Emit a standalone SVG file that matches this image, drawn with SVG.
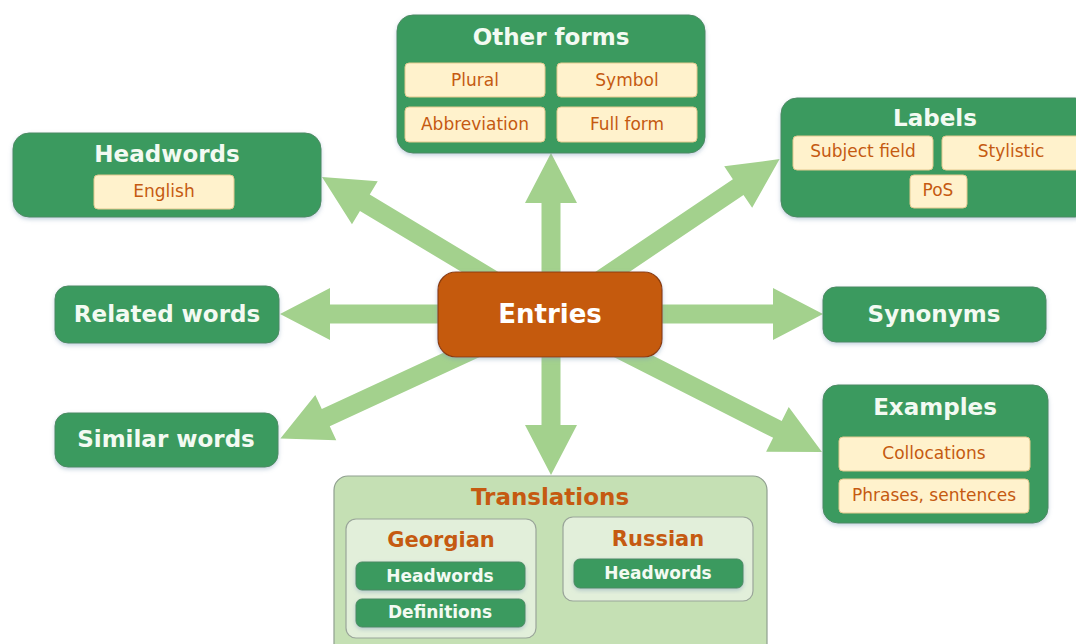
<svg xmlns="http://www.w3.org/2000/svg" width="1076" height="644" viewBox="0 0 1076 644">
<defs>
<filter id="sh" x="-10%" y="-10%" width="120%" height="130%">
<feDropShadow dx="0" dy="2" stdDeviation="2" flood-color="#7f9cb8" flood-opacity="0.45"/>
</filter>
</defs>
<style>
.bg{fill:#ffffff}
.arrow{fill:#A3D18D}
.node{fill:#3B9A5E;stroke:#4d8a62;stroke-width:1;filter:url(#sh)}
.entry{fill:#C55A11;stroke:#8B3E0A;stroke-width:1.2;filter:url(#sh)}
.pill{fill:#FFF2CC;stroke:#E3C98F;stroke-width:1}
.gpill{fill:#3B9A5E;stroke:#4d8a62;stroke-width:1;filter:url(#sh)}
.trans{fill:#C5E0B4;stroke:#8f9f8f;stroke-width:1.2}
.lang{fill:#E2EFDA;stroke:#9aa59a;stroke-width:1.2}
.t{font-family:"DejaVu Sans","Verdana",sans-serif;text-anchor:middle}
.title{font-size:23px;font-weight:bold;fill:#F3FAF2}
.ptxt{font-size:17px;fill:#C55A11}
.otitle{font-weight:bold;fill:#C55A11}
.wsub{font-size:17px;font-weight:bold;fill:#F3FAF2}
</style>
<rect class="bg" x="0" y="0" width="1076" height="644"/>
<g id="connectors">
<polygon class="arrow" transform="translate(550,314) rotate(0)" points="0,-9.5 223,-9.5 223,-26 273,0 223,26 223,9.5 0,9.5"/>
<polygon class="arrow" transform="translate(550,314) rotate(180)" points="0,-9.5 220,-9.5 220,-26 270,0 220,26 220,9.5 0,9.5"/>
<polygon class="arrow" transform="translate(551,314) rotate(-90)" points="0,-9.5 111,-9.5 111,-26 161,0 111,26 111,9.5 0,9.5"/>
<polygon class="arrow" transform="translate(551,314) rotate(90)" points="0,-9.5 111,-9.5 111,-26 161,0 111,26 111,9.5 0,9.5"/>
<polygon class="arrow" transform="translate(550,314) rotate(-149)" points="0,-9.5 216,-9.5 216,-25 266,0 216,25 216,9.5 0,9.5"/>
<polygon class="arrow" transform="translate(550,314) rotate(-34)" points="0,-9.5 227,-9.5 227,-25 277,0 227,25 227,9.5 0,9.5"/>
<polygon class="arrow" transform="translate(550,314) rotate(155.2)" points="0,-9.5 247,-9.5 247,-25 297,0 247,25 247,9.5 0,9.5"/>
<polygon class="arrow" transform="translate(550,314) rotate(26.9)" points="0,-9.5 255,-9.5 255,-25 305,0 255,25 255,9.5 0,9.5"/>
</g>
<g id="headwords">
<rect class="node" x="13" y="133" width="308" height="84" rx="16"/>
<text class="t title" x="167" y="162">Headwords</text>
<rect class="pill" x="94" y="175" width="140" height="34" rx="4"/>
<text class="t ptxt" x="164" y="197">English</text>
</g>
<g id="other-forms">
<rect class="node" x="397" y="15" width="308" height="138" rx="16"/>
<text class="t title" x="551" y="45">Other forms</text>
<rect class="pill" x="405" y="63" width="140" height="34" rx="4"/>
<text class="t ptxt" x="475" y="86">Plural</text>
<rect class="pill" x="557" y="63" width="140" height="34" rx="4"/>
<text class="t ptxt" x="627" y="86">Symbol</text>
<rect class="pill" x="405" y="107" width="140" height="35" rx="4"/>
<text class="t ptxt" x="475" y="130">Abbreviation</text>
<rect class="pill" x="557" y="107" width="140" height="35" rx="4"/>
<text class="t ptxt" x="627" y="130">Full form</text>
</g>
<g id="labels">
<rect class="node" x="781" y="98" width="310" height="119" rx="16"/>
<text class="t title" x="935" y="126">Labels</text>
<rect class="pill" x="793" y="136" width="140" height="34" rx="4"/>
<text class="t ptxt" x="863" y="157">Subject field</text>
<rect class="pill" x="942" y="136" width="150" height="34" rx="4"/>
<text class="t ptxt" x="1011" y="157">Stylistic</text>
<rect class="pill" x="910" y="175" width="57" height="33" rx="4"/>
<text class="t ptxt" x="938" y="196">PoS</text>
</g>
<g id="related-words">
<rect class="node" x="55" y="286" width="224" height="57" rx="13"/>
<text class="t title" x="167" y="322">Related words</text>
</g>
<g id="similar-words">
<rect class="node" x="55" y="413" width="223" height="54" rx="13"/>
<text class="t title" x="166" y="447">Similar words</text>
</g>
<g id="synonyms">
<rect class="node" x="823" y="287" width="223" height="55" rx="13"/>
<text class="t title" x="934" y="322">Synonyms</text>
</g>
<g id="examples">
<rect class="node" x="823" y="385" width="225" height="138" rx="15"/>
<text class="t title" x="935" y="415">Examples</text>
<rect class="pill" x="839" y="437" width="191" height="34" rx="4"/>
<text class="t ptxt" x="934" y="459">Collocations</text>
<rect class="pill" x="839" y="479" width="190" height="34" rx="4"/>
<text class="t ptxt" x="934" y="501">Phrases, sentences</text>
</g>
<g id="entries">
<rect class="entry" x="438" y="272" width="224" height="85" rx="18"/>
<text class="t" x="550" y="323" font-size="26" font-weight="bold" fill="#FFFFFF">Entries</text>
</g>
<g id="translations">
<rect class="trans" x="334" y="476" width="433" height="190" rx="14"/>
<text class="t otitle" x="550" y="505" font-size="23">Translations</text>
<g id="georgian">
<rect class="lang" x="346" y="519" width="190" height="119" rx="10"/>
<text class="t otitle" x="441" y="547" font-size="21">Georgian</text>
<rect class="gpill" x="356" y="562" width="169" height="28" rx="6"/>
<text class="t wsub" x="440" y="582">Headwords</text>
<rect class="gpill" x="356" y="599" width="169" height="28" rx="6"/>
<text class="t wsub" x="440" y="618">Definitions</text>
</g>
<g id="russian">
<rect class="lang" x="563" y="517" width="190" height="84" rx="10"/>
<text class="t otitle" x="658" y="546" font-size="21">Russian</text>
<rect class="gpill" x="574" y="559" width="169" height="29" rx="6"/>
<text class="t wsub" x="658" y="579">Headwords</text>
</g>
</g>
</svg>
